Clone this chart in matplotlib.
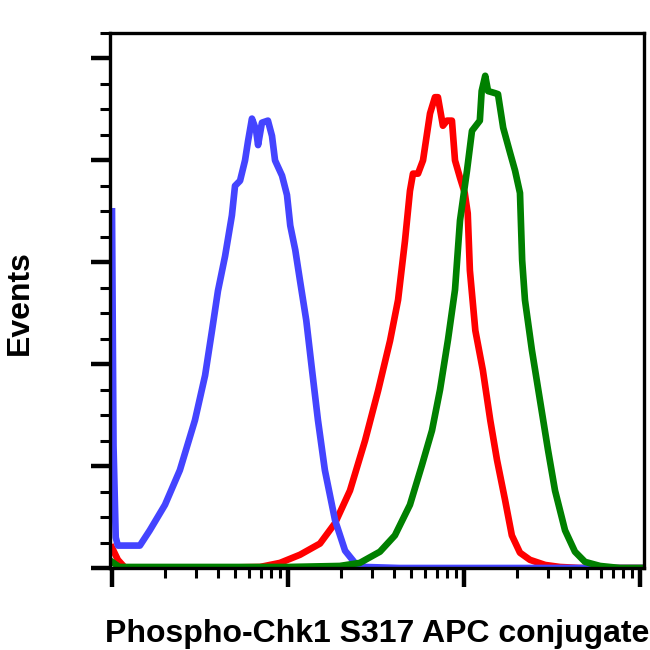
import numpy as np
import matplotlib
matplotlib.use("Agg")
import matplotlib.pyplot as plt
from matplotlib.ticker import LogLocator, MultipleLocator, NullFormatter

# histogram traces (intensity, events)
blue_x = [1.0, 1.02, 1.05, 1.08, 1.44, 1.64, 2.0, 2.43, 2.96, 3.38, 3.70, 4.0, 4.39, 4.80,
          5.0, 5.34, 5.70, 5.93, 6.24, 6.58, 6.76, 7.11, 7.69, 8.11, 8.44, 9.25, 9.87,
          10.3, 11.0, 11.7, 12.7, 13.7, 14.8, 16.2, 18.5, 21.1, 24.0, 27.5, 43, 1000]
blue_y = [350, 120, 30, 22, 22, 37, 62, 96, 145, 189, 233, 272, 306, 346,
          375, 380, 400, 419, 441, 430, 415, 437, 439, 424, 400, 385, 366,
          336, 312, 282, 243, 194, 145, 96, 47, 17, 5, 1, 0, 0]

red_x = [1.0, 1.08, 1.19, 3.16, 6.93, 9.0, 11.7, 15.2, 18.5, 22.5, 27.4, 32.5, 38.0, 42.2,
         46.2, 49.3, 51.3, 54.8, 58.5, 64.1, 68.4, 71.1, 75.9, 80.0, 85.4, 88.9, 94.9,
         101, 105, 108, 116, 128, 141, 154, 171, 187, 208, 237, 289, 351, 456, 1000]
red_y = [20, 8, 0, 0, 1, 5, 13, 24, 44, 76, 125, 174, 223, 263,
         321, 370, 387, 387, 400, 446, 462, 462, 434, 439, 439, 400, 383,
         368, 348, 292, 233, 194, 145, 106, 67, 32, 15, 8, 3, 1, 0, 0]

green_x = [1.0, 1.1, 10.0, 19.7, 25.6, 33.3, 40.5, 49.3, 57.7, 65.8, 73.1, 81.1, 88.9,
           94.9, 104, 111, 123, 126, 132, 137, 150, 156, 167, 183, 195, 208, 214,
           222, 243, 270, 300, 329, 375, 427, 487, 593, 769, 1000]
green_y = [6, 1, 1, 2, 5, 16, 32, 62, 101, 135, 175, 224, 273,
           341, 390, 429, 439, 468, 483, 468, 466, 465, 432, 407, 390, 368, 302,
           263, 214, 165, 116, 76, 37, 16, 6, 2, 0, 0]

x_label = "Phospho-Chk1 S317 APC conjugate"
y_label = "Events"

plt.rcParams['font.family'] = ['Liberation Sans', 'DejaVu Sans']

fig = plt.figure(figsize=(6.5, 6.5), dpi=100)
ax = fig.add_axes([110 / 650, 82 / 650, 534 / 650, 535 / 650])

ax.plot(red_x, red_y, color="#ff0000", lw=4.8, solid_joinstyle="round")
ax.plot(blue_x, blue_y, color="#4444ff", lw=4.8, solid_joinstyle="round")
ax.plot(green_x, green_y, color="#008000", lw=4.8, solid_joinstyle="round")

ax.set_xscale("log")
ax.set_xlim(10 ** (-2 / 176), 10 ** (532 / 176))
ax.set_ylim(0, 525)

ax.xaxis.set_major_locator(LogLocator(base=10, numticks=10))
ax.xaxis.set_minor_locator(LogLocator(base=10, subs=np.arange(2, 10), numticks=20))
ax.xaxis.set_major_formatter(NullFormatter())
ax.xaxis.set_minor_formatter(NullFormatter())
ax.yaxis.set_major_locator(MultipleLocator(100))
ax.yaxis.set_minor_locator(MultipleLocator(25))
ax.yaxis.set_major_formatter(NullFormatter())

ax.tick_params(which="major", direction="out", length=14, width=3.2, color="black")
ax.tick_params(which="minor", direction="out", length=7, width=2.2, color="black")
for s in ax.spines.values():
    s.set_linewidth(2.4)

fig.text(377 / 650, 8 / 650, x_label, ha="center", va="baseline",
         fontsize=23, fontweight="bold")
fig.text(20 / 650, 347 / 650, y_label, ha="center", va="center", rotation=90,
         fontsize=23, fontweight="bold")

fig.savefig("out.png", dpi=100, facecolor="white")
